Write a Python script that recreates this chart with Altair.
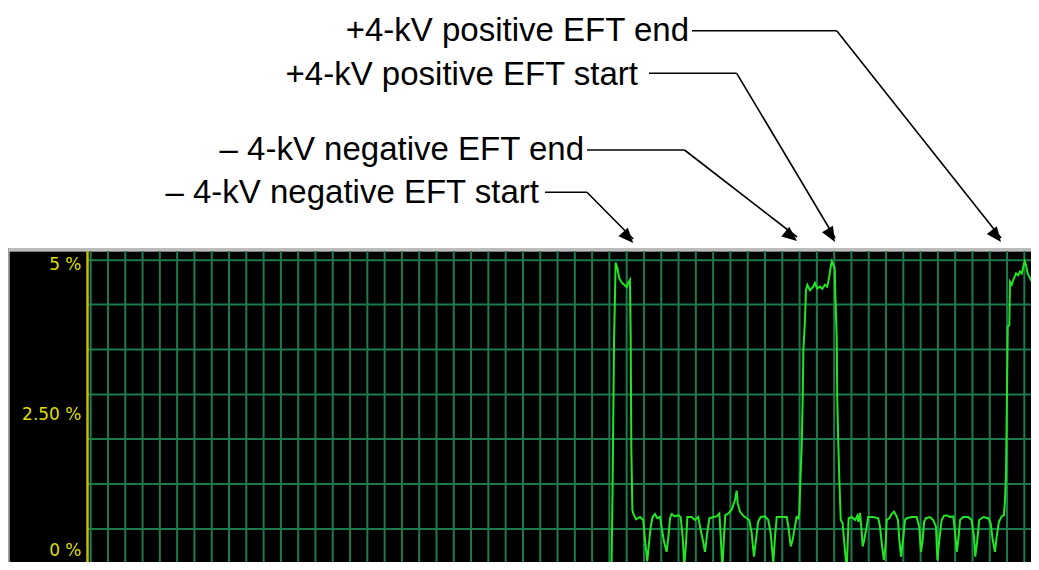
import math
import altair as alt
import pandas as pd

# ---- trace data: time (grid divisions) and level (%) ----
t = [
    -4.80, 30.10, 30.13, 30.18, 30.27, 30.32, 30.36, 30.46, 30.57, 30.71,
    30.86, 31.00, 31.09, 31.19, 31.23, 31.27, 31.33, 31.38, 31.54, 31.77,
    31.96, 32.06, 32.19, 32.31, 32.39, 32.50, 32.64, 32.77, 32.93, 33.03,
    33.16, 33.31, 33.41, 33.51, 33.60, 33.79, 33.99, 34.12, 34.24, 34.33,
    34.43, 34.51, 34.76, 34.95, 35.14, 35.24, 35.40, 35.53, 35.66, 35.78,
    36.01, 36.21, 36.36, 36.44, 36.53, 36.63, 36.70, 36.88, 37.07, 37.26,
    37.36, 37.42, 37.55, 37.75, 37.94, 38.09, 38.23, 38.36, 38.48, 38.60,
    38.75, 39.00, 39.19, 39.33, 39.48, 39.58, 39.68, 39.97, 40.26, 40.35,
    40.49, 40.60, 40.73, 40.83, 40.93, 40.98, 41.02, 41.12, 41.18, 41.22,
    41.31, 41.37, 41.45, 41.60, 41.79, 41.89, 42.02, 42.18, 42.31, 42.47,
    42.60, 42.72, 42.80, 42.87, 42.95, 43.03, 43.07, 43.15, 43.18, 43.24,
    43.30, 43.38, 43.49, 43.57, 43.68, 43.73, 43.78, 43.84, 44.01, 44.21,
    44.34, 44.40, 44.49, 44.57, 44.65, 44.74, 44.88, 44.97, 45.26, 45.55,
    45.65, 45.77, 45.88, 45.98, 46.04, 46.19, 46.33, 46.46, 46.58, 46.69,
    46.77, 46.87, 46.96, 47.10, 47.20, 47.48, 47.77, 47.92, 48.02, 48.12,
    48.20, 48.31, 48.54, 48.73, 48.89, 48.97, 49.08, 49.22, 49.35, 49.51,
    49.70, 49.89, 49.99, 50.09, 50.18, 50.28, 50.47, 50.76, 50.95, 51.09,
    51.16, 51.28, 51.39, 51.63, 51.91, 52.05, 52.17, 52.30, 52.40, 52.53,
    52.69, 52.82, 52.88, 52.94, 52.98, 53.04, 53.13, 53.17, 53.27, 53.36,
    53.52, 53.65, 53.75, 53.85, 53.94, 54.02, 54.10, 54.19, 54.33, 54.48,
    54.62, 54.75, 54.85,
]
pct = [
    -0.50, -0.50, 0.05, 1.09, 3.70, 4.37, 4.99, 4.90, 4.73, 4.66,
    4.62, 4.58, 4.65, 4.70, 3.76, 1.87, 0.87, 0.81, 0.71, 0.75,
    0.70, 0.37, 0.01, 0.37, 0.59, 0.75, 0.80, 0.73, 0.75, 0.56,
    0.34, 0.17, 0.42, 0.73, 0.80, 0.76, 0.78, 0.75, 0.42, -0.08,
    0.31, 0.75, 0.75, 0.70, 0.75, 0.59, 0.37, 0.17, 0.48, 0.73,
    0.75, 0.76, 0.81, 0.42, -0.11, 0.42, 0.78, 0.81, 0.87, 1.03,
    1.19, 0.98, 0.84, 0.77, 0.73, 0.70, 0.48, 0.09, 0.37, 0.67,
    0.75, 0.76, 0.70, 0.48, -0.02, 0.42, 0.75, 0.75, 0.75, 0.59,
    0.26, 0.37, 0.59, 0.75, 0.73, 0.81, 1.15, 1.92, 2.70, 3.53,
    4.01, 4.53, 4.62, 4.53, 4.59, 4.65, 4.56, 4.59, 4.55, 4.62,
    4.59, 4.76, 4.92, 5.01, 4.95, 4.90, 4.45, 3.73, 2.70, 1.98,
    1.37, 0.70, 0.65, 0.37, 0.03, -0.11, 0.31, 0.73, 0.75, 0.70,
    0.77, 0.67, 0.82, 0.59, 0.26, 0.37, 0.59, 0.75, 0.75, 0.73,
    0.59, 0.26, 0.03, 0.31, 0.70, 0.73, 0.80, 0.84, 0.78, 0.70,
    0.37, 0.09, 0.31, 0.70, 0.73, 0.75, 0.75, 0.59, 0.17, 0.37,
    0.67, 0.73, 0.75, 0.70, 0.59, 0.03, 0.37, 0.70, 0.77, 0.78,
    0.75, 0.76, 0.51, 0.17, 0.37, 0.70, 0.75, 0.75, 0.70, 0.42,
    0.09, 0.37, 0.70, 0.75, 0.73, 0.65, 0.37, 0.17, 0.42, 0.67,
    0.76, 0.78, 1.01, 1.48, 2.42, 3.92, 3.95, 4.67, 4.62, 4.70,
    4.81, 4.78, 4.84, 4.81, 4.92, 5.01, 4.95, 4.81, 4.73, 4.65,
    4.56, 4.62, 4.67,
]

# ---- axis / grid values ----
y_label_values = [0, 2.5, 5]
x_grid = list(range(0, 55))
y_grid = [5.03, 4.29, 3.54, 2.79, 2.05, 1.30, 0.55]

# ---- annotations ----
labels = [
    "+4-kV positive EFT end",
    "+4-kV positive EFT start",
    "\u2013 4-kV negative EFT end",
    "\u2013 4-kV negative EFT start",
]
event_t = [52.65, 43.05, 40.85, 31.38]

# ---- layout (page pixels) ----
VX0, VY0 = 9, 251
W, H = 1022, 311
text_right = [689, 638, 584, 539]
text_mid = [31, 75, 150, 193]
line_x1 = [692, 649, 587, 545]
joint_x = [836.7, 736.7, 684.5, 587.0]
joint_y = [30.7, 73.3, 150.0, 192.3]
tip_px = [1001.0, 835.0, 797.0, 633.3]
tip_y = [242, 242, 241, 243]

xs = alt.Scale(domain=[-4.725, 54.385], nice=False, zero=False)
ys = alt.Scale(domain=[0.0, 5.1833], nice=False, zero=False)

GRID = "#1d7a4c"
one = pd.DataFrame({"k": [0]})

y_axis = alt.Axis(values=y_label_values, grid=False, ticks=False,
                  domainColor="#c4bc00", domainWidth=2.5,
                  labelColor="#dede00", labelFont="DejaVu Sans",
                  labelFontSize=17, labelPadding=6,
                  labelOffset={"condition": {"test": "datum.value == 0", "value": -12},
                               "value": 3},
                  offset=-78, title=None, zindex=1,
                  labelExpr="datum.value == 2.5 ? '2.50 %' : datum.value + ' %'")

vgrid = alt.Chart(pd.DataFrame({"gx": x_grid})).mark_rule(
    color=GRID, strokeWidth=2
).encode(
    x=alt.X("gx:Q", scale=xs, axis=None),
    y=alt.value(0),
    y2=alt.value(H),
)

hgrid = alt.Chart(pd.DataFrame({"g": y_grid})).mark_rule(
    color=GRID, strokeWidth=2
).encode(
    y=alt.Y("g:Q", scale=ys, axis=y_axis),
    x=alt.value(78),
    x2=alt.value(W),
)

trace = alt.Chart(pd.DataFrame({"t": t, "pct": pct})).mark_line(
    color="#22e622", strokeWidth=2, clip=True
).encode(
    x=alt.X("t:Q", scale=xs, axis=None),
    y=alt.Y("pct:Q", scale=ys, axis=y_axis),
)

top_border = alt.Chart(one).mark_rule(color="#bcbcbc", strokeWidth=3).encode(
    x=alt.value(-1), x2=alt.value(W), y=alt.value(-1.5)
)
left_border = alt.Chart(one).mark_rule(color="#a0a0a0", strokeWidth=1).encode(
    x=alt.value(-0.5), y=alt.value(-3), y2=alt.value(H)
)

ann_layers = []
for i in range(len(labels)):
    df = pd.DataFrame({"t": [event_t[i]], "label": [labels[i]]})
    txt = alt.Chart(df).mark_text(
        align="right", baseline="middle", font="Liberation Sans",
        fontSize=33, color="black"
    ).encode(
        text="label:N",
        x=alt.value(text_right[i] - VX0),
        y=alt.value(text_mid[i] - VY0),
    )
    hline = alt.Chart(df).mark_rule(color="black", strokeWidth=1.6).encode(
        x=alt.value(line_x1[i] - VX0),
        x2=alt.value(joint_x[i] - VX0),
        y=alt.value(joint_y[i] - VY0),
    )
    diag = alt.Chart(df).mark_rule(color="black", strokeWidth=1.6).encode(
        x=alt.X("t:Q", scale=xs, axis=None),
        y=alt.value(tip_y[i] - VY0 - 4),
        x2=alt.value(joint_x[i] - VX0),
        y2=alt.value(joint_y[i] - VY0),
    )
    dx = tip_px[i] - joint_x[i]
    dy = tip_y[i] - joint_y[i]
    ang = math.degrees(math.atan2(-dx, dy)) % 360
    head = alt.Chart(df).mark_point(
        shape="M0,0L-0.42,-1L0.42,-1Z", filled=True, size=900, angle=ang,
        color="black", opacity=1, strokeWidth=0
    ).encode(
        x=alt.X("t:Q", scale=xs, axis=None),
        y=alt.value(tip_y[i] - VY0),
    )
    ann_layers += [txt, hline, diag, head]

chart = alt.layer(vgrid, hgrid, trace, top_border, left_border, *ann_layers).properties(
    width=W,
    height=H,
    autosize=alt.AutoSizeParams(type="none"),
    padding={"left": 1, "top": 243, "right": 0, "bottom": 0},
    background="white",
).configure_view(fill="black", stroke="transparent")

chart.save("out.html", embed_options={"renderer": "svg", "actions": False})
